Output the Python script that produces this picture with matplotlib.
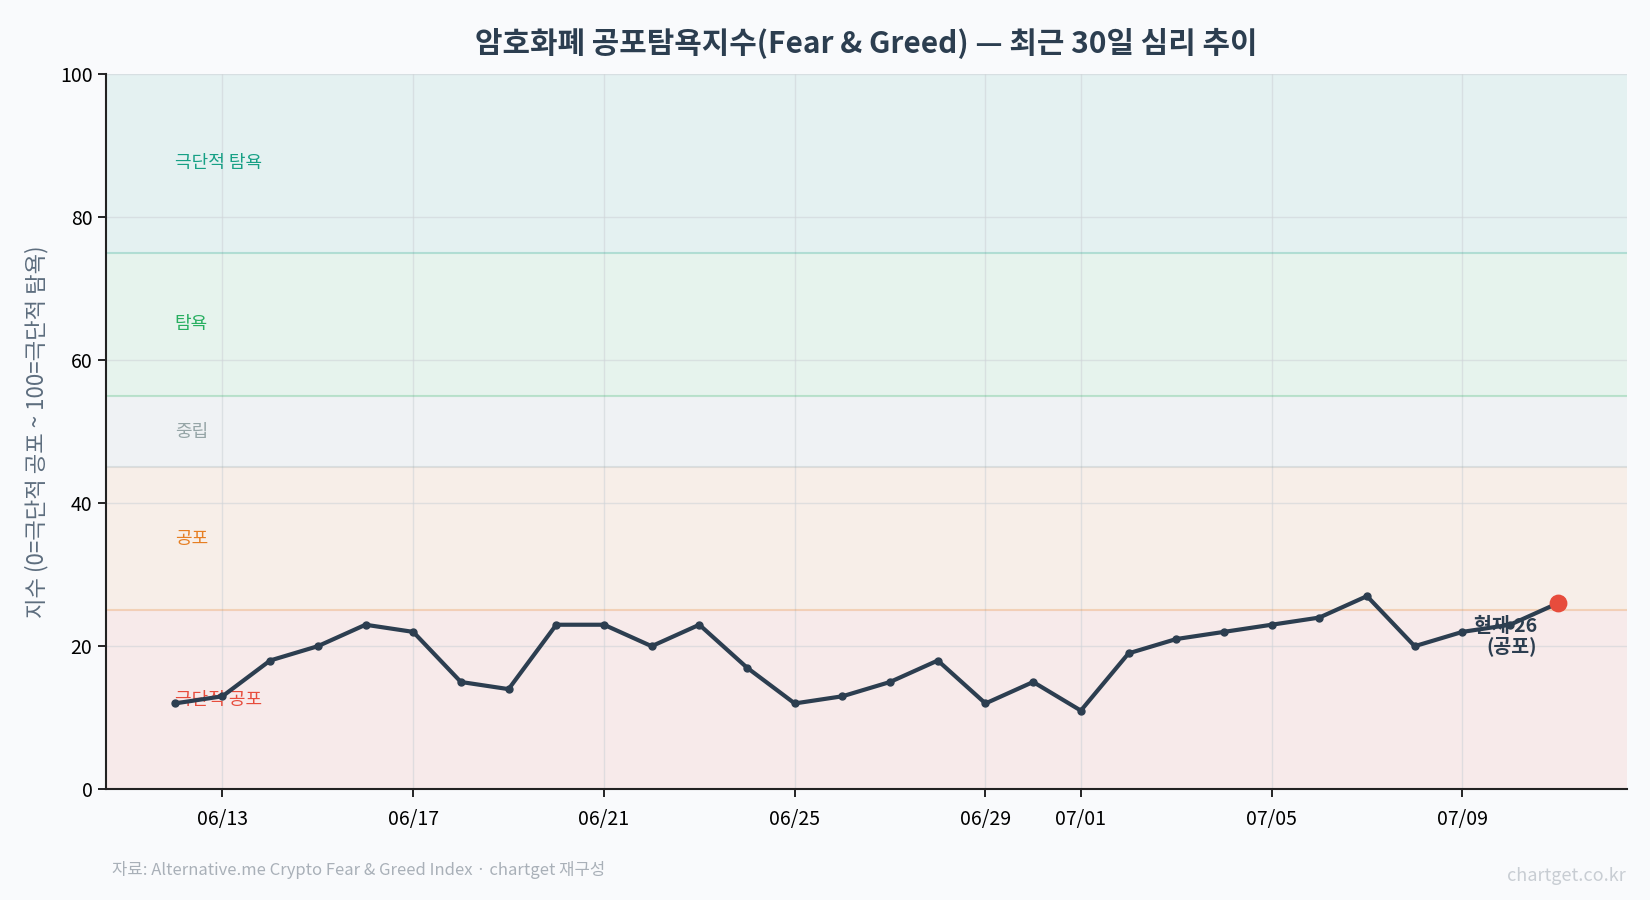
import matplotlib
matplotlib.use("Agg")
import matplotlib.pyplot as plt
import matplotlib.dates as mdates
import numpy as np
import pandas as pd

plt.rcParams['font.family'] = ['Noto Sans CJK KR', 'DejaVu Sans']
plt.rcParams['axes.unicode_minus'] = False

# data
dates = pd.date_range('2024-06-12', '2024-07-11', freq='D')
fng = [12, 13, 18, 20, 23, 22, 15, 14, 23, 23,
       20, 23, 17, 12, 13, 15, 18, 12, 15, 11,
       19, 21, 22, 23, 24, 27, 20, 22, 23, 26]

band_names = ['극단적 공포', '공포', '중립', '탐욕', '극단적 탐욕']
band_lo = [0, 25, 45, 55, 75]
band_hi = [25, 45, 55, 75, 100]
band_colors = ['#e74c3c', '#e67e22', '#95a5a6', '#27ae60', '#16a085']

bg = '#f9fafc'
dark = '#2c3e50'

fig, ax = plt.subplots(figsize=(16.5, 9), dpi=100)
fig.patch.set_facecolor(bg)
ax.set_facecolor(bg)
fig.subplots_adjust(left=0.064, right=0.986, top=0.918, bottom=0.123)

# 구간 배경
for lo, hi, c, name in zip(band_lo, band_hi, band_colors, band_names):
    ax.axhspan(lo, hi, color=c, alpha=0.09, lw=0, zorder=0)
    if lo > 0:
        ax.axhline(lo, color=c, alpha=0.25, lw=1.5, zorder=1)
    ax.text(dates[0], (lo + hi) / 2, name, color=c, fontsize=13,
            ha='left', va='center', zorder=2)

ax.plot(dates, fng, color=dark, lw=3, marker='o', markersize=5, zorder=3)
ax.scatter([dates[-1]], [fng[-1]], s=140, color='#e74c3c', zorder=4)
ax.annotate(f'현재 {fng[-1]}\n(공포)', xy=(dates[-1], fng[-1]),
            xytext=(-15, -10), textcoords='offset points',
            ha='right', va='top', fontsize=14, fontweight='bold',
            color=dark, zorder=5, linespacing=1.0)

ax.set_ylim(0, 100)
ax.set_yticks([0, 20, 40, 60, 80, 100])
ax.xaxis.set_major_locator(mdates.DayLocator(bymonthday=[1, 5, 9, 13, 17, 21, 25, 29]))
ax.xaxis.set_major_formatter(mdates.DateFormatter('%m/%d'))
ax.tick_params(axis='both', labelsize=14, length=6, width=1.2, colors='black')
ax.tick_params(axis='x', pad=8)
ax.grid(True, color='#cfd4d8', alpha=0.6, lw=1)
ax.set_axisbelow(True)

for s in ['top', 'right']:
    ax.spines[s].set_visible(False)
for s in ['left', 'bottom']:
    ax.spines[s].set_linewidth(1.5)
    ax.spines[s].set_color('#222222')

ax.set_ylabel('지수 (0=극단적 공포 ~ 100=극단적 탐욕)', fontsize=16, color='#5d6d7e', labelpad=8)
ax.set_title('암호화폐 공포탐욕지수(Fear & Greed) — 최근 30일 심리 추이',
             fontsize=21.5, fontweight='bold', color=dark, pad=15)

fig.text(0.068, 0.033, '자료: Alternative.me Crypto Fear & Greed Index · chartget 재구성',
         fontsize=12, color='#a9b0b8', ha='left', va='center')
fig.text(0.985, 0.027, 'chartget.co.kr', fontsize=13, color='#c8cdd3', ha='right', va='center')

fig.savefig('out.png', dpi=100, facecolor=bg)
